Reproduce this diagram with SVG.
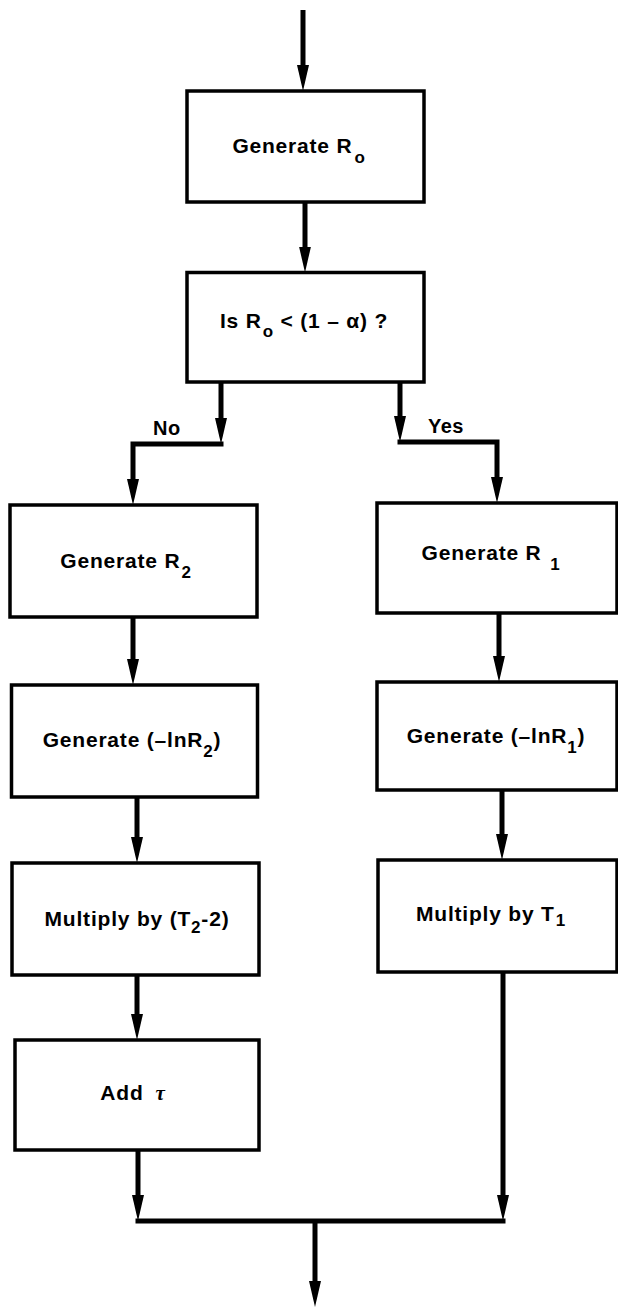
<svg xmlns="http://www.w3.org/2000/svg" width="618" height="1308" viewBox="0 0 618 1308">
<style>
.box{fill:#fff;stroke:#000;stroke-width:3.5}
.t{font-family:"Liberation Sans",Arial,Helvetica,sans-serif;font-weight:bold;font-size:21px;letter-spacing:0.8px;fill:#000;text-anchor:middle}
.lbl{font-family:"Liberation Sans",Arial,Helvetica,sans-serif;font-weight:bold;font-size:20px;letter-spacing:0.5px;fill:#000}
.sub{font-size:17px}
.c{fill:none;stroke:#000;stroke-width:5;stroke-linejoin:miter}
</style>
<defs>
<marker id="ah" markerUnits="userSpaceOnUse" viewBox="0 0 26 12" markerWidth="26" markerHeight="12" refX="1" refY="6" orient="auto">
<path d="M0,0 L26,6 L0,12 z" fill="#000"/>
</marker>
</defs>
<g id="n1"><rect class="box" x="187" y="91" width="237" height="111"/><text class="t" x="299" y="153">Generate R<tspan class="sub" dx="2" dy="10">o</tspan></text></g>
<g id="n2"><rect class="box" x="187" y="272.5" width="237" height="109.5"/><text class="t" x="304" y="328">Is R<tspan class="sub" dx="1" dy="9">o</tspan><tspan dy="-9"> &lt; (1 – α) ?</tspan></text></g>
<g id="n3"><rect class="box" x="10" y="505" width="247" height="112"/><text class="t" x="126" y="568">Generate R<tspan class="sub" dx="1" dy="10">2</tspan></text></g>
<g id="n4"><rect class="box" x="377" y="503" width="240" height="110"/><text class="t" x="491" y="560">Generate R <tspan class="sub" dx="2" dy="10">1</tspan></text></g>
<g id="n5"><rect class="box" x="11.5" y="685" width="246" height="112"/><text class="t" x="132" y="747">Generate (–lnR<tspan class="sub" dy="10">2</tspan><tspan dy="-10">)</tspan></text></g>
<g id="n6"><rect class="box" x="377" y="682" width="240" height="108"/><text class="t" x="496" y="743">Generate (–lnR<tspan class="sub" dy="10">1</tspan><tspan dy="-10">)</tspan></text></g>
<g id="n7"><rect class="box" x="12" y="863" width="247" height="112"/><text class="t" x="137" y="926">Multiply by (T<tspan class="sub" dy="7">2</tspan><tspan dy="-7">-2)</tspan></text></g>
<g id="n8"><rect class="box" x="378" y="860" width="239" height="112"/><text class="t" x="491" y="921">Multiply by T<tspan class="sub" dx="1" dy="5">1</tspan></text></g>
<g id="n9"><rect class="box" x="15" y="1040" width="244" height="110"/><text class="t" x="133" y="1100">Add<tspan dx="12" font-style="italic" font-family="'Liberation Serif',serif">τ</tspan></text></g>
<g id="connectors">
<path class="c" d="M303,10 V66" marker-end="url(#ah)"/>
<path class="c" d="M305,202 V247.5" marker-end="url(#ah)"/>
<path class="c" d="M221,382 V419" marker-end="url(#ah)"/>
<path class="c" d="M223.5,444 H133 V480" marker-end="url(#ah)"/>
<path class="c" d="M400,382 V417" marker-end="url(#ah)"/>
<path class="c" d="M397.5,442 H497 V478" marker-end="url(#ah)"/>
<path class="c" d="M133,617 V660" marker-end="url(#ah)"/>
<path class="c" d="M137,797 V838" marker-end="url(#ah)"/>
<path class="c" d="M137,975 V1015" marker-end="url(#ah)"/>
<path class="c" d="M138,1150 V1196" marker-end="url(#ah)"/>
<path class="c" d="M499,613 V657" marker-end="url(#ah)"/>
<path class="c" d="M502,790 V835" marker-end="url(#ah)"/>
<path class="c" d="M503,972 V1196" marker-end="url(#ah)"/>
<path class="c" d="M135.5,1221 H505.5"/>
<path class="c" d="M315,1221 V1282" marker-end="url(#ah)"/>
<text class="lbl" x="153" y="435">No</text>
<text class="lbl" x="428" y="433">Yes</text>
</g>
</svg>
